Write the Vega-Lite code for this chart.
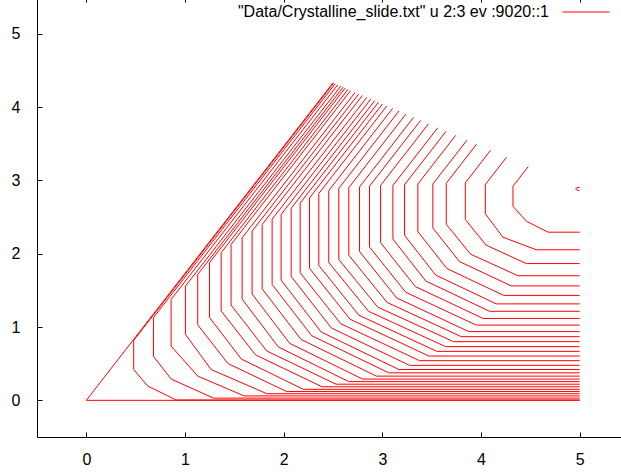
{
  "$schema": "https://vega.github.io/schema/vega-lite/v6.json",
  "width": 592,
  "height": 440,
  "autosize": {"type": "none"},
  "padding": {"left": 37, "top": -3, "right": -8, "bottom": 36},
  "background": "white",
  "config": {"view": {"stroke": null}, "font": "Liberation Sans"},
  "data": {"values": [
    {"c":0,"i":0,"x":5.0,"y":2.905},{"c":0,"i":1,"x":4.97,"y":2.9},{"c":0,"i":2,"x":4.96,"y":2.882},{"c":0,"i":3,"x":4.972,"y":2.866},{"c":0,"i":4,"x":5.0,"y":2.862},
    {"c":1,"i":0,"x":4.479,"y":3.188},{"c":1,"i":1,"x":4.324,"y":2.92},{"c":1,"i":2,"x":4.324,"y":2.647},{"c":1,"i":3,"x":4.459,"y":2.443},{"c":1,"i":4,"x":4.68,"y":2.293},{"c":1,"i":5,"x":5,"y":2.293},
    {"c":2,"i":0,"x":4.259,"y":3.315},{"c":2,"i":1,"x":4.044,"y":2.943},{"c":2,"i":2,"x":4.044,"y":2.544},{"c":2,"i":3,"x":4.222,"y":2.225},{"c":2,"i":4,"x":4.56,"y":2.053},{"c":2,"i":5,"x":5,"y":2.053},
    {"c":3,"i":0,"x":4.096,"y":3.408},{"c":3,"i":1,"x":3.841,"y":2.966},{"c":3,"i":2,"x":3.841,"y":2.466},{"c":3,"i":3,"x":4.051,"y":2.117},{"c":3,"i":4,"x":4.46,"y":1.865},{"c":3,"i":5,"x":5,"y":1.865},
    {"c":4,"i":0,"x":3.954,"y":3.491},{"c":4,"i":1,"x":3.648,"y":2.96},{"c":4,"i":2,"x":3.648,"y":2.4},{"c":4,"i":3,"x":3.895,"y":1.993},{"c":4,"i":4,"x":4.375,"y":1.699},{"c":4,"i":5,"x":5,"y":1.699},
    {"c":5,"i":0,"x":3.857,"y":3.547},{"c":5,"i":1,"x":3.512,"y":2.95},{"c":5,"i":2,"x":3.512,"y":2.35},{"c":5,"i":3,"x":3.782,"y":1.892},{"c":5,"i":4,"x":4.307,"y":1.56},{"c":5,"i":5,"x":5,"y":1.56},
    {"c":6,"i":0,"x":3.743,"y":3.613},{"c":6,"i":1,"x":3.36,"y":2.95},{"c":6,"i":2,"x":3.36,"y":2.3},{"c":6,"i":3,"x":3.656,"y":1.796},{"c":6,"i":4,"x":4.23,"y":1.431},{"c":6,"i":5,"x":5,"y":1.431},
    {"c":7,"i":0,"x":3.646,"y":3.669},{"c":7,"i":1,"x":3.225,"y":2.94},{"c":7,"i":2,"x":3.225,"y":2.25},{"c":7,"i":3,"x":3.541,"y":1.708},{"c":7,"i":4,"x":4.155,"y":1.315},{"c":7,"i":5,"x":5,"y":1.315},
    {"c":8,"i":0,"x":3.562,"y":3.717},{"c":8,"i":1,"x":3.107,"y":2.93},{"c":8,"i":2,"x":3.107,"y":2.2},{"c":8,"i":3,"x":3.44,"y":1.628},{"c":8,"i":4,"x":4.087,"y":1.214},{"c":8,"i":5,"x":5,"y":1.214},
    {"c":9,"i":0,"x":3.468,"y":3.771},{"c":9,"i":1,"x":2.982,"y":2.93},{"c":9,"i":2,"x":2.982,"y":2.15},{"c":9,"i":3,"x":3.335,"y":1.551},{"c":9,"i":4,"x":4.02,"y":1.117},{"c":9,"i":5,"x":5,"y":1.117},
    {"c":10,"i":0,"x":3.388,"y":3.817},{"c":10,"i":1,"x":2.87,"y":2.92},{"c":10,"i":2,"x":2.87,"y":2.09},{"c":10,"i":3,"x":3.238,"y":1.473},{"c":10,"i":4,"x":3.952,"y":1.026},{"c":10,"i":5,"x":5,"y":1.026},
    {"c":11,"i":0,"x":3.317,"y":3.859},{"c":11,"i":1,"x":2.769,"y":2.91},{"c":11,"i":2,"x":2.769,"y":2.03},{"c":11,"i":3,"x":3.146,"y":1.396},{"c":11,"i":4,"x":3.877,"y":0.937},{"c":11,"i":5,"x":5,"y":0.937},
    {"c":12,"i":0,"x":3.239,"y":3.903},{"c":12,"i":1,"x":2.66,"y":2.9},{"c":12,"i":2,"x":2.66,"y":1.98},{"c":12,"i":3,"x":3.048,"y":1.335},{"c":12,"i":4,"x":3.8,"y":0.868},{"c":12,"i":5,"x":5,"y":0.868},
    {"c":13,"i":0,"x":3.168,"y":3.945},{"c":13,"i":1,"x":2.559,"y":2.89},{"c":13,"i":2,"x":2.559,"y":1.92},{"c":13,"i":3,"x":2.954,"y":1.27},{"c":13,"i":4,"x":3.722,"y":0.8},{"c":13,"i":5,"x":5,"y":0.8},
    {"c":14,"i":0,"x":3.104,"y":3.981},{"c":14,"i":1,"x":2.457,"y":2.86},{"c":14,"i":2,"x":2.457,"y":1.88},{"c":14,"i":3,"x":2.86,"y":1.214},{"c":14,"i":4,"x":3.641,"y":0.732},{"c":14,"i":5,"x":5,"y":0.732},
    {"c":15,"i":0,"x":3.046,"y":4.015},{"c":15,"i":1,"x":2.356,"y":2.82},{"c":15,"i":2,"x":2.356,"y":1.84},{"c":15,"i":3,"x":2.763,"y":1.16},{"c":15,"i":4,"x":3.553,"y":0.668},{"c":15,"i":5,"x":5,"y":0.668},
    {"c":16,"i":0,"x":3.001,"y":4.041},{"c":16,"i":1,"x":2.262,"y":2.76},{"c":16,"i":2,"x":2.262,"y":1.8},{"c":16,"i":3,"x":2.673,"y":1.106},{"c":16,"i":4,"x":3.472,"y":0.604},{"c":16,"i":5,"x":5,"y":0.604},
    {"c":17,"i":0,"x":2.961,"y":4.064},{"c":17,"i":1,"x":2.167,"y":2.69},{"c":17,"i":2,"x":2.167,"y":1.74},{"c":17,"i":3,"x":2.578,"y":1.045},{"c":17,"i":4,"x":3.377,"y":0.541},{"c":17,"i":5,"x":5,"y":0.541},
    {"c":18,"i":0,"x":2.923,"y":4.086},{"c":18,"i":1,"x":2.076,"y":2.62},{"c":18,"i":2,"x":2.076,"y":1.69},{"c":18,"i":3,"x":2.484,"y":0.986},{"c":18,"i":4,"x":3.276,"y":0.477},{"c":18,"i":5,"x":5,"y":0.477},
    {"c":19,"i":0,"x":2.883,"y":4.109},{"c":19,"i":1,"x":1.974,"y":2.534},{"c":19,"i":2,"x":1.974,"y":1.64},{"c":19,"i":3,"x":2.38,"y":0.932},{"c":19,"i":4,"x":3.168,"y":0.42},{"c":19,"i":5,"x":5,"y":0.42},
    {"c":20,"i":0,"x":2.843,"y":4.132},{"c":20,"i":1,"x":1.883,"y":2.47},{"c":20,"i":2,"x":1.883,"y":1.58},{"c":20,"i":3,"x":2.285,"y":0.881},{"c":20,"i":4,"x":3.066,"y":0.375},{"c":20,"i":5,"x":5,"y":0.375},
    {"c":21,"i":0,"x":2.798,"y":4.158},{"c":21,"i":1,"x":1.782,"y":2.398},{"c":21,"i":2,"x":1.782,"y":1.52},{"c":21,"i":3,"x":2.176,"y":0.83},{"c":21,"i":4,"x":2.94,"y":0.33},{"c":21,"i":5,"x":5,"y":0.33},
    {"c":22,"i":0,"x":2.761,"y":4.179},{"c":22,"i":1,"x":1.68,"y":2.307},{"c":22,"i":2,"x":1.68,"y":1.45},{"c":22,"i":3,"x":2.061,"y":0.777},{"c":22,"i":4,"x":2.8,"y":0.29},{"c":22,"i":5,"x":5,"y":0.29},
    {"c":23,"i":0,"x":2.725,"y":4.2},{"c":23,"i":1,"x":1.579,"y":2.216},{"c":23,"i":2,"x":1.579,"y":1.38},{"c":23,"i":3,"x":1.947,"y":0.727},{"c":23,"i":4,"x":2.66,"y":0.255},{"c":23,"i":5,"x":5,"y":0.255},
    {"c":24,"i":0,"x":2.68,"y":4.226},{"c":24,"i":1,"x":1.467,"y":2.125},{"c":24,"i":2,"x":1.467,"y":1.3},{"c":24,"i":3,"x":1.828,"y":0.674},{"c":24,"i":4,"x":2.53,"y":0.22},{"c":24,"i":5,"x":5,"y":0.22},
    {"c":25,"i":0,"x":2.653,"y":4.242},{"c":25,"i":1,"x":1.366,"y":2.012},{"c":25,"i":2,"x":1.366,"y":1.22},{"c":25,"i":3,"x":1.714,"y":0.62},{"c":25,"i":4,"x":2.39,"y":0.185},{"c":25,"i":5,"x":5,"y":0.185},
    {"c":26,"i":0,"x":2.624,"y":4.259},{"c":26,"i":1,"x":1.248,"y":1.876},{"c":26,"i":2,"x":1.248,"y":1.13},{"c":26,"i":3,"x":1.572,"y":0.562},{"c":26,"i":4,"x":2.2,"y":0.15},{"c":26,"i":5,"x":5,"y":0.15},
    {"c":27,"i":0,"x":2.603,"y":4.271},{"c":27,"i":1,"x":1.129,"y":1.717},{"c":27,"i":2,"x":1.129,"y":1.03},{"c":27,"i":3,"x":1.435,"y":0.502},{"c":27,"i":4,"x":2.03,"y":0.12},{"c":27,"i":5,"x":5,"y":0.12},
    {"c":28,"i":0,"x":2.579,"y":4.285},{"c":28,"i":1,"x":1.004,"y":1.557},{"c":28,"i":2,"x":1.004,"y":0.9},{"c":28,"i":3,"x":1.265,"y":0.42},{"c":28,"i":4,"x":1.83,"y":0.09},{"c":28,"i":5,"x":5,"y":0.09},
    {"c":29,"i":0,"x":2.548,"y":4.302},{"c":29,"i":1,"x":0.859,"y":1.376},{"c":29,"i":2,"x":0.859,"y":0.74},{"c":29,"i":3,"x":1.13,"y":0.33},{"c":29,"i":4,"x":1.6,"y":0.06},{"c":29,"i":5,"x":5,"y":0.06},
    {"c":30,"i":0,"x":2.522,"y":4.317},{"c":30,"i":1,"x":0.68,"y":1.127},{"c":30,"i":2,"x":0.68,"y":0.6},{"c":30,"i":3,"x":0.86,"y":0.29},{"c":30,"i":4,"x":1.29,"y":0.03},{"c":30,"i":5,"x":5,"y":0.03},
    {"c":31,"i":0,"x":2.506,"y":4.327},{"c":31,"i":1,"x":0.48,"y":0.817},{"c":31,"i":2,"x":0.48,"y":0.42},{"c":31,"i":3,"x":0.622,"y":0.195},{"c":31,"i":4,"x":0.91,"y":0.005},{"c":31,"i":5,"x":5,"y":0.005},
    {"c":32,"i":0,"x":2.5,"y":4.33},{"c":32,"i":1,"x":0,"y":0},{"c":32,"i":2,"x":5,"y":0}
  ]},
  "layer": [
    {
      "mark": {"type": "line", "strokeWidth": 1, "interpolate": "linear"},
      "encoding": {
        "x": {"field": "x", "type": "quantitative",
              "scale": {"domain": [-0.5, 5.5], "nice": false, "zero": false},
              "axis": {"values": [0,1,2,3,4,5], "format": "d", "title": null, "grid": false,
                       "domain": true, "domainColor": "#000", "domainWidth": 1,
                       "tickColor": "#000", "tickSize": -5, "tickWidth": 1,
                       "labelFontSize": 16, "labelColor": "#000", "labelFont": "Liberation Sans", "labelPadding": 19}},
        "y": {"field": "y", "type": "quantitative",
              "scale": {"domain": [-0.5, 5.5], "nice": false, "zero": false},
              "axis": {"values": [0,1,2,3,4,5], "format": "d", "title": null, "grid": false,
                       "domain": true, "domainColor": "#000", "domainWidth": 1,
                       "tickColor": "#000", "tickSize": -5, "tickWidth": 1,
                       "labelFontSize": 16, "labelColor": "#000", "labelFont": "Liberation Sans", "labelPadding": 22}},
        "detail": {"field": "c", "type": "nominal"},
        "order": {"field": "i", "type": "quantitative"},
        "color": {"datum": "\"Data/Crystalline_slide.txt\" u 2:3 ev :9020::1",
                  "scale": {"range": ["#ff0000"]},
                  "legend": {"orient": "none", "legendX": 525, "legendY": -9, "title": null,
                             "symbolType": "stroke", "symbolSize": 2209, "symbolStrokeWidth": 1,
                             "labelFontSize": 16, "labelFont": "Liberation Sans", "labelColor": "#000",
                             "labelAlign": "right", "labelOffset": -61, "labelLimit": 500, "padding": 0}}
      }
    },
    {
      "mark": {"type": "point", "opacity": 0},
      "encoding": {
        "x": {"field": "x", "type": "quantitative",
              "axis": {"orient": "top", "values": [0,1,2,3,4,5], "labels": false, "domain": false, "title": null,
                       "grid": false, "tickColor": "#000", "tickSize": -5, "tickWidth": 1}},
        "y": {"field": "y", "type": "quantitative"}
      }
    }
  ],
  "resolve": {"axis": {"x": "independent"}}
}
